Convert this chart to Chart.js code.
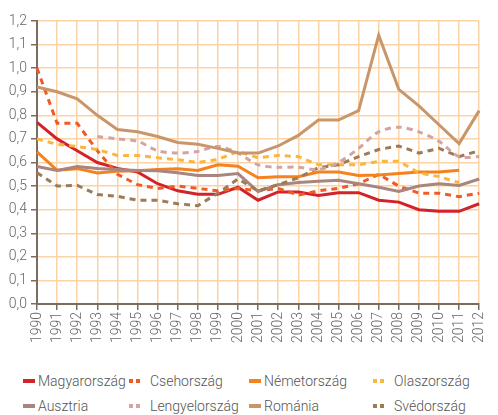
<!DOCTYPE html>
<html>
<head>
<meta charset="utf-8">
<script src="https://cdn.jsdelivr.net/npm/chart.js@4/dist/chart.umd.min.js"></script>
<style>
  html, body { margin: 0; padding: 0; background: #fff; }
  #wrap { position: relative; width: 498px; height: 415px; }
  #chart { position: absolute; left: 0; top: 0; }
  .leg { position: absolute; font-family: 'Roboto', sans-serif; font-size: 14px; font-weight: 300; color: #555; white-space: nowrap; line-height: 16px; }
  .leg span.sw { position: absolute; top: 6px; height: 4px; }
</style>
</head>
<body>
<div id="wrap">
  <canvas id="chart" width="498" height="360"></canvas>
</div>
<script>
const evek = ['1990','1991','1992','1993','1994','1995','1996','1997','1998','1999','2000','2001',
  '2002','2003','2004','2005','2006','2007','2008','2009','2010','2011','2012'];
const yTicks = [0, 0.1, 0.2, 0.3, 0.4, 0.5, 0.6, 0.7, 0.8, 0.9, 1.0, 1.1, 1.2];

const magyarorszag = [0.77,0.70,0.65,0.60,0.575,0.56,0.51,0.48,0.465,0.465,0.495,0.44,0.475,0.475,0.46,0.472,0.472,0.44,0.432,0.40,0.393,0.393,0.425];
const csehorszag   = [1.00,0.766,0.766,0.65,0.55,0.506,0.49,0.50,0.49,0.48,0.49,0.48,0.49,0.462,0.48,0.49,0.51,0.55,0.50,0.47,0.47,0.455,0.47];
const nemetorszag  = [0.645,0.567,0.574,0.556,0.563,0.565,0.57,0.574,0.566,0.59,0.584,0.535,0.54,0.54,0.56,0.56,0.545,0.547,0.553,0.56,0.56,0.567,null];
const olaszorszag  = [0.70,0.677,0.668,0.655,0.63,0.63,0.62,0.612,0.60,0.613,0.647,0.62,0.63,0.625,0.59,0.59,0.59,0.605,0.605,0.556,0.54,0.514,null];
const ausztria     = [0.583,0.566,0.583,0.575,0.57,0.566,0.565,0.557,0.545,0.545,0.553,0.477,0.506,0.515,0.52,0.525,0.51,0.495,0.477,0.50,0.51,0.503,0.53];
const lengyelorszag= [null,null,null,0.71,0.70,0.69,0.65,0.64,0.647,0.668,0.64,0.59,0.58,0.58,0.57,0.60,0.66,0.73,0.75,0.73,0.69,0.625,0.625];
const romania      = [0.92,0.90,0.87,0.80,0.74,0.73,0.71,0.685,0.677,0.66,0.64,0.64,0.67,0.715,0.78,0.78,0.82,1.14,0.91,0.84,0.76,0.68,0.82];
const svedorszag   = [0.557,0.50,0.503,0.464,0.457,0.44,0.44,0.425,0.417,0.47,0.53,0.48,0.506,0.535,0.578,0.59,0.625,0.655,0.67,0.64,0.66,0.625,0.65];

const sorozatok = [
  { nev: 'Magyarország', adat: magyarorszag, szin: '#d2232a', szaggatott: false },
  { nev: 'Csehország', adat: csehorszag, szin: '#f15a24', szaggatott: true },
  { nev: 'Németország', adat: nemetorszag, szin: '#f5821f', szaggatott: false },
  { nev: 'Olaszország', adat: olaszorszag, szin: '#fcb53d', szaggatott: true },
  { nev: 'Ausztria', adat: ausztria, szin: '#a8857f', szaggatott: false },
  { nev: 'Lengyelország', adat: lengyelorszag, szin: '#d4a4a2', szaggatott: true },
  { nev: 'Románia', adat: romania, szin: '#c9966b', szaggatott: false },
  { nev: 'Svédország', adat: svedorszag, szin: '#9e7a55', szaggatott: true }
];

// sorrend: a hátul lévők rajzolódnak előbb
const rajzSorrend = [6, 5, 7, 3, 4, 2, 1, 0];

const betu = { family: "'Roboto', sans-serif", size: 14, weight: 300 };

new Chart(document.getElementById('chart').getContext('2d'), {
  type: 'line',
  data: {
    labels: evek,
    datasets: rajzSorrend.map(i => {
      const s = sorozatok[i];
      return {
        label: s.nev,
        data: s.adat,
        borderColor: s.szin,
        backgroundColor: s.szin,
        borderWidth: 3,
        borderDash: s.szaggatott ? [6, 5] : [],
        pointRadius: 0,
        tension: s.nev === 'Lengyelország' ? 0.3 : 0,
        spanGaps: false,
        fill: false
      };
    })
  },
  options: {
    responsive: false,
    animation: false,
    layout: { padding: { top: 21, right: 11, left: 0, bottom: 0 } },
    plugins: { legend: { display: false }, tooltip: { enabled: false } },
    scales: {
      x: {
        offset: false,
        grid: { color: '#fcd3a6', lineWidth: 1.5, tickColor: '#7a6d60', tickLength: 6, drawTicks: true },
        border: { color: '#7a6d60', width: 2 },
        ticks: { color: '#666', font: betu, minRotation: 90, maxRotation: 90, autoSkip: false, padding: 2 },
        afterFit: s => { s.height = 56; }
      },
      y: {
        min: 0,
        max: 1.2,
        afterBuildTicks: s => { s.ticks = yTicks.map(v => ({ value: v })); },
        grid: { color: '#fcd3a6', lineWidth: 1.5, tickColor: '#7a6d60', tickLength: 6 },
        border: { color: '#7a6d60', width: 2 },
        ticks: { color: '#666', font: betu, padding: 4, callback: v => v.toFixed(1).replace('.', ',') },
        afterFit: s => { s.width = 37; }
      }
    }
  }
});

// jelmagyarázat HTML-ben
const wrap = document.getElementById('wrap');
const oszlopX = [23, 129, 249, 373];
const sorY = [373, 398];
sorozatok.forEach((s, i) => {
  const x = oszlopX[i % 4], y = sorY[Math.floor(i / 4)];
  const el = document.createElement('div');
  el.className = 'leg';
  el.style.left = x + 'px';
  el.style.top = y + 'px';
  if (s.szaggatott) {
    el.style.paddingLeft = '21px';
    el.innerHTML = `<span class="sw" style="left:0;width:4px;background:${s.szin}"></span>` +
      `<span class="sw" style="left:7px;width:4px;background:${s.szin}"></span>${s.nev}`;
  } else {
    el.style.paddingLeft = '15px';
    el.innerHTML = `<span class="sw" style="left:0;width:12px;background:${s.szin}"></span>${s.nev}`;
  }
  wrap.appendChild(el);
});
</script>
</body>
</html>
